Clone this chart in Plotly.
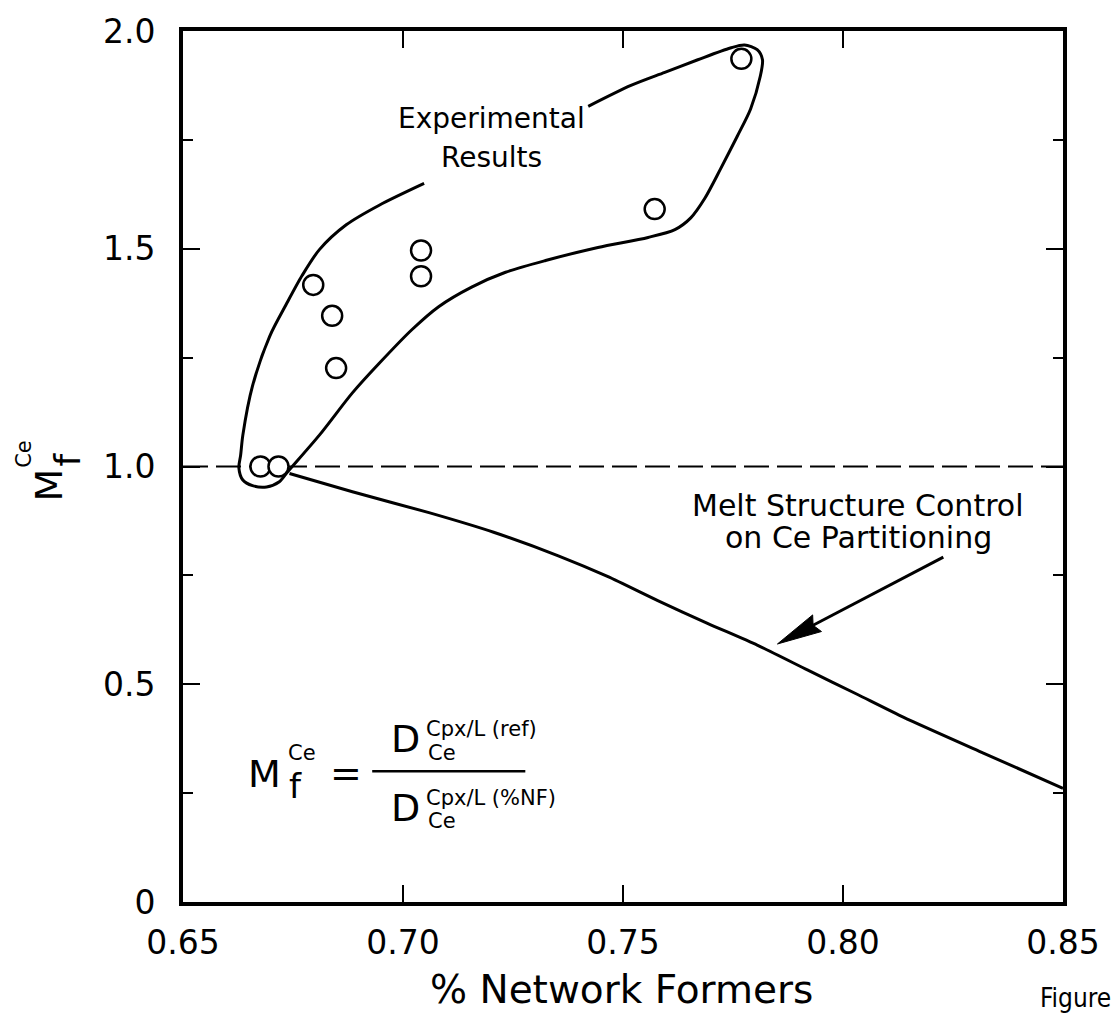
import math
import plotly.graph_objects as go

FONT = "DejaVu Sans"
NARROW = "Liberation Sans Narrow, DejaVu Sans Condensed, Liberation Sans"

# Measured melt-structure modifier for Ce versus fraction of network formers
nf_points = [0.6676, 0.6717, 0.6796, 0.6839, 0.6848, 0.7041, 0.7041, 0.7572, 0.7769]
mf_points = [1.00, 1.00, 1.417, 1.346, 1.226, 1.496, 1.437, 1.591, 1.936]

# Hand-drawn outline around the experimental field (left open where it is labelled)
env_x = [0.7421, 0.7518, 0.7595, 0.7670, 0.7744, 0.7776, 0.7805, 0.7817, 0.7812, 0.7790,
         0.7760, 0.7722, 0.7686, 0.7654, 0.7618, 0.7557, 0.7443, 0.7324, 0.7233, 0.7156,
         0.7081, 0.7020, 0.6946, 0.6885, 0.6810, 0.6738, 0.6719, 0.6690, 0.6658, 0.6636,
         0.6627, 0.6631, 0.6636, 0.6658, 0.6697, 0.6735, 0.6771, 0.6810, 0.6871, 0.6946,
         0.7048]
env_y = [1.827, 1.875, 1.905, 1.934, 1.961, 1.968, 1.957, 1.934, 1.896, 1.821,
         1.759, 1.684, 1.616, 1.571, 1.544, 1.526, 1.503, 1.473, 1.446, 1.412,
         1.367, 1.314, 1.237, 1.169, 1.072, 0.988, 0.965, 0.953, 0.956, 0.969,
         0.997, 1.026, 1.072, 1.185, 1.299, 1.373, 1.439, 1.498, 1.555, 1.600,
         1.650]

# Melt structure control on Ce partitioning
model_x = [0.6742, 0.6885, 0.7059, 0.7206, 0.7353, 0.7466, 0.7579, 0.7692, 0.7805,
           0.7919, 0.8032, 0.8138, 0.8319, 0.8500]
model_y = [0.984, 0.942, 0.894, 0.849, 0.795, 0.747, 0.692, 0.640, 0.590,
           0.533, 0.477, 0.424, 0.342, 0.261]

# Reference level
ref_x = [0.65, 0.85]
ref_y = [1.0, 1.0]

x_ticks = [0.65, 0.70, 0.75, 0.80, 0.85]
x_tick_text = ["0.65", "0.70", "0.75", "0.80", "0.85"]
y_ticks = [0.0, 0.5, 1.0, 1.5, 2.0]
y_tick_text = ["0", "0.5", "1.0", "1.5", "2.0"]

X_RANGE = [0.65, 0.85]
Y_RANGE = [0.0, 2.0]

FIG_W, FIG_H = 1112, 1016
M_L, M_R, M_T, M_B = 183, 45, 21, 114
PLOT_W = FIG_W - M_L - M_R
PLOT_H = FIG_H - M_T - M_B
SX = PLOT_W / (X_RANGE[1] - X_RANGE[0])
SY = PLOT_H / (Y_RANGE[1] - Y_RANGE[0])

fig = go.Figure()

fig.add_trace(go.Scatter(
    x=ref_x, y=ref_y, mode="lines",
    line=dict(color="black", width=2, dash="25px,8px"),
    hoverinfo="skip", showlegend=False))

fig.add_trace(go.Scatter(
    x=env_x, y=env_y, mode="lines",
    line=dict(color="black", width=3, shape="spline", smoothing=0.8),
    hoverinfo="skip", showlegend=False))

fig.add_trace(go.Scatter(
    x=model_x, y=model_y, mode="lines",
    line=dict(color="black", width=3, shape="spline", smoothing=0.6),
    hoverinfo="skip", showlegend=False))

fig.add_trace(go.Scatter(
    x=nf_points, y=mf_points, mode="markers",
    marker=dict(symbol="circle", size=20, color="white",
                line=dict(color="black", width=2.5)),
    showlegend=False))

# Arrow pointing at the model curve: shaft plus a long filled head
tip = (0.7851, 0.5925)
tail = (0.8228, 0.792)
dxp = (tail[0] - tip[0]) * SX
dyp = (tail[1] - tip[1]) * SY
L = math.hypot(dxp, dyp)
ux, uy = dxp / L, dyp / L
head_len, half_w = 45, 9.5
bx, by = ux * head_len, uy * head_len
px_, py_ = -uy * half_w, ux * half_w


def to_data(ox, oy):
    return tip[0] + ox / SX, tip[1] + oy / SY


b1 = to_data(bx + px_, by + py_)
b2 = to_data(bx - px_, by - py_)
bc = to_data(bx * 0.9, by * 0.9)
fig.add_shape(type="line", xref="x", yref="y", x0=tail[0], y0=tail[1], x1=bc[0], y1=bc[1],
              line=dict(color="black", width=3))
fig.add_shape(type="path", xref="x", yref="y",
              path=f"M{tip[0]},{tip[1]} L{b1[0]},{b1[1]} L{bc[0]},{bc[1]} L{b2[0]},{b2[1]} Z",
              fillcolor="black", line=dict(color="black", width=1))

# Fraction bar of the definition
fig.add_shape(type="line", xref="x", yref="y", x0=0.6930, y0=0.300, x1=0.7278, y1=0.300,
              line=dict(color="black", width=2.5))

ann = []


def text(x, y, s, size, xanchor="center", yanchor="middle", ref="data", angle=0, family=FONT):
    ann.append(dict(
        x=x, y=y, text=s, showarrow=False,
        xref="x" if ref == "data" else "paper",
        yref="y" if ref == "data" else "paper",
        xanchor=xanchor, yanchor=yanchor, textangle=angle,
        font=dict(family=family, size=size, color="black")))


# Labels inside the plot
text(0.7201, 1.798, "Experimental", 28)
text(0.7201, 1.710, "Results", 28)
text(0.8034, 0.910, "Melt Structure Control", 30)
text(0.8036, 0.836, "on Ce Partitioning", 30)

# Definition of the modifier
text(0.6686, 0.295, "M", 38)
text(0.6735, 0.342, "Ce", 21, xanchor="left")
text(0.6737, 0.266, "f", 34, xanchor="left")
text(0.6871, 0.297, "=", 38)
text(0.7005, 0.3746, "D", 38)
text(0.7048, 0.397, "Cpx/L (ref)", 21, xanchor="left")
text(0.7052, 0.343, "Ce", 21, xanchor="left")
text(0.7005, 0.2157, "D", 38)
text(0.7048, 0.238, "Cpx/L (%NF)", 21, xanchor="left")
text(0.7052, 0.186, "Ce", 21, xanchor="left")

# Axis titles
text((623 - M_L) / PLOT_W, -(990 - (M_T + PLOT_H)) / PLOT_H, "% Network Formers", 39, ref="paper")
text((48 - M_L) / PLOT_W, (M_T + PLOT_H - 480) / PLOT_H, "M", 38, ref="paper", angle=-90)
text((23 - M_L) / PLOT_W, (M_T + PLOT_H - 449) / PLOT_H, "Ce", 21, ref="paper", angle=-90)
text((67 - M_L) / PLOT_W, (M_T + PLOT_H - 455) / PLOT_H, "f", 36, ref="paper", angle=-90)
text((1042 - M_L) / PLOT_W, -(999 - (M_T + PLOT_H)) / PLOT_H, "Figure", 26,
     xanchor="left", ref="paper", family=NARROW)

axis_common = dict(
    showline=True, linecolor="black", linewidth=4, mirror="allticks",
    ticks="inside", ticklen=17, tickwidth=2, tickcolor="black",
    showgrid=False, zeroline=False,
    tickfont=dict(family=FONT, size=33, color="black"),
)

fig.update_xaxes(range=X_RANGE, tickvals=x_ticks, ticktext=x_tick_text,
                 ticklabelstandoff=8, **axis_common)
fig.update_yaxes(range=Y_RANGE, tickvals=y_ticks, ticktext=y_tick_text,
                 ticklabelstandoff=17,
                 minor=dict(ticks="inside", ticklen=10, tickwidth=2, tickcolor="black",
                            dtick=0.25, tick0=0, showgrid=False),
                 **axis_common)

fig.update_layout(
    width=FIG_W, height=FIG_H,
    margin=dict(l=M_L, r=M_R, t=M_T, b=M_B, pad=0),
    plot_bgcolor="white", paper_bgcolor="white",
    annotations=ann, showlegend=False,
)

fig.write_html("out.html")
